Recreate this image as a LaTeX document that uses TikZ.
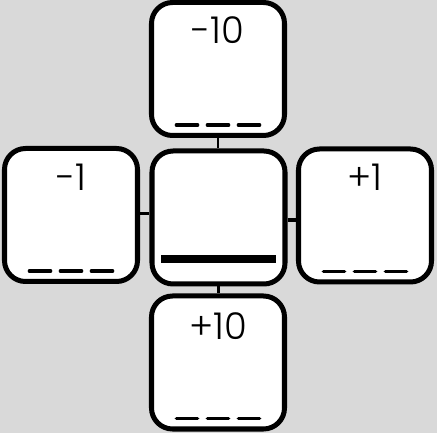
\documentclass[tikz,border=0pt]{standalone}
\usepackage{fontspec}
\setmainfont{Poppins}[UprightFont={* Light}]
\usepackage{tikz}
\definecolor{bggray}{RGB}{217,217,217}

\begin{document}
\begin{tikzpicture}[box/.style={draw=black,fill=white,line width=2.85pt,rounded corners=0.42cm,minimum size=2.66cm,inner sep=0pt},
num/.style={black,inner sep=0pt,font=\fontsize{21}{23}\selectfont},
blank/.style={line width=2.1pt,line cap=round,dash pattern=on 0.42cm off 0.2cm}]
\fill[bggray] (0,0) rectangle (8.74,8.66);
\useasboundingbox (0,0) rectangle (8.74,8.66);
%Node Coordinates
\node at (4.36,7.28) [box] (Top) {};
\node at (1.42,4.36) [box] (Left) {};
\node at (4.37,4.31) [box] (Mid) {};
\node at (7.30,4.35) [box] (Right) {};
\node at (4.36,1.41) [box] (Bottom) {};
%Connections
\draw [line width=1.3pt] (Top.south) -- (Top.south |- Mid.north);
\draw [line width=2.2pt] (Mid.south) -- (Mid.south |- Bottom.north);
\draw [line width=2.2pt] ([yshift=0.03cm]Left.east) -- ([yshift=0.03cm]Left.east -| Mid.west);
\draw [line width=1.8pt] ([yshift=-0.05cm]Mid.east) -- ([yshift=-0.05cm]Mid.east -| Right.west);
%Node Labels
\node [num] at ([yshift=0.78cm]Top.center) (TopNum) {-10};
\node [num] at ([yshift=0.76cm]Left.center) (LeftNum) {-1};
\node [num] at ([yshift=0.76cm]Right.center) (RightNum) {+1};
\node [num] at ([yshift=0.72cm]Bottom.center) (BottomNum) {+10};
% Answer lines
\draw [blank] ([shift={(-0.83,0.26)}]Top.south) -- ([shift={(0.83,0.26)}]Top.south);
\draw [blank] ([shift={(-0.83,0.26)}]Left.south) -- ([shift={(0.83,0.26)}]Left.south);
\draw [blank] ([shift={(-0.83,0.26)}]Right.south) -- ([shift={(0.83,0.26)}]Right.south);
\draw [blank] ([shift={(-0.83,0.26)}]Bottom.south) -- ([shift={(0.83,0.26)}]Bottom.south);
\draw [line width=4.5pt] ([shift={(-1.15,0.55)}]Mid.south) -- ([shift={(1.15,0.55)}]Mid.south);
\end{tikzpicture}
\end{document}
